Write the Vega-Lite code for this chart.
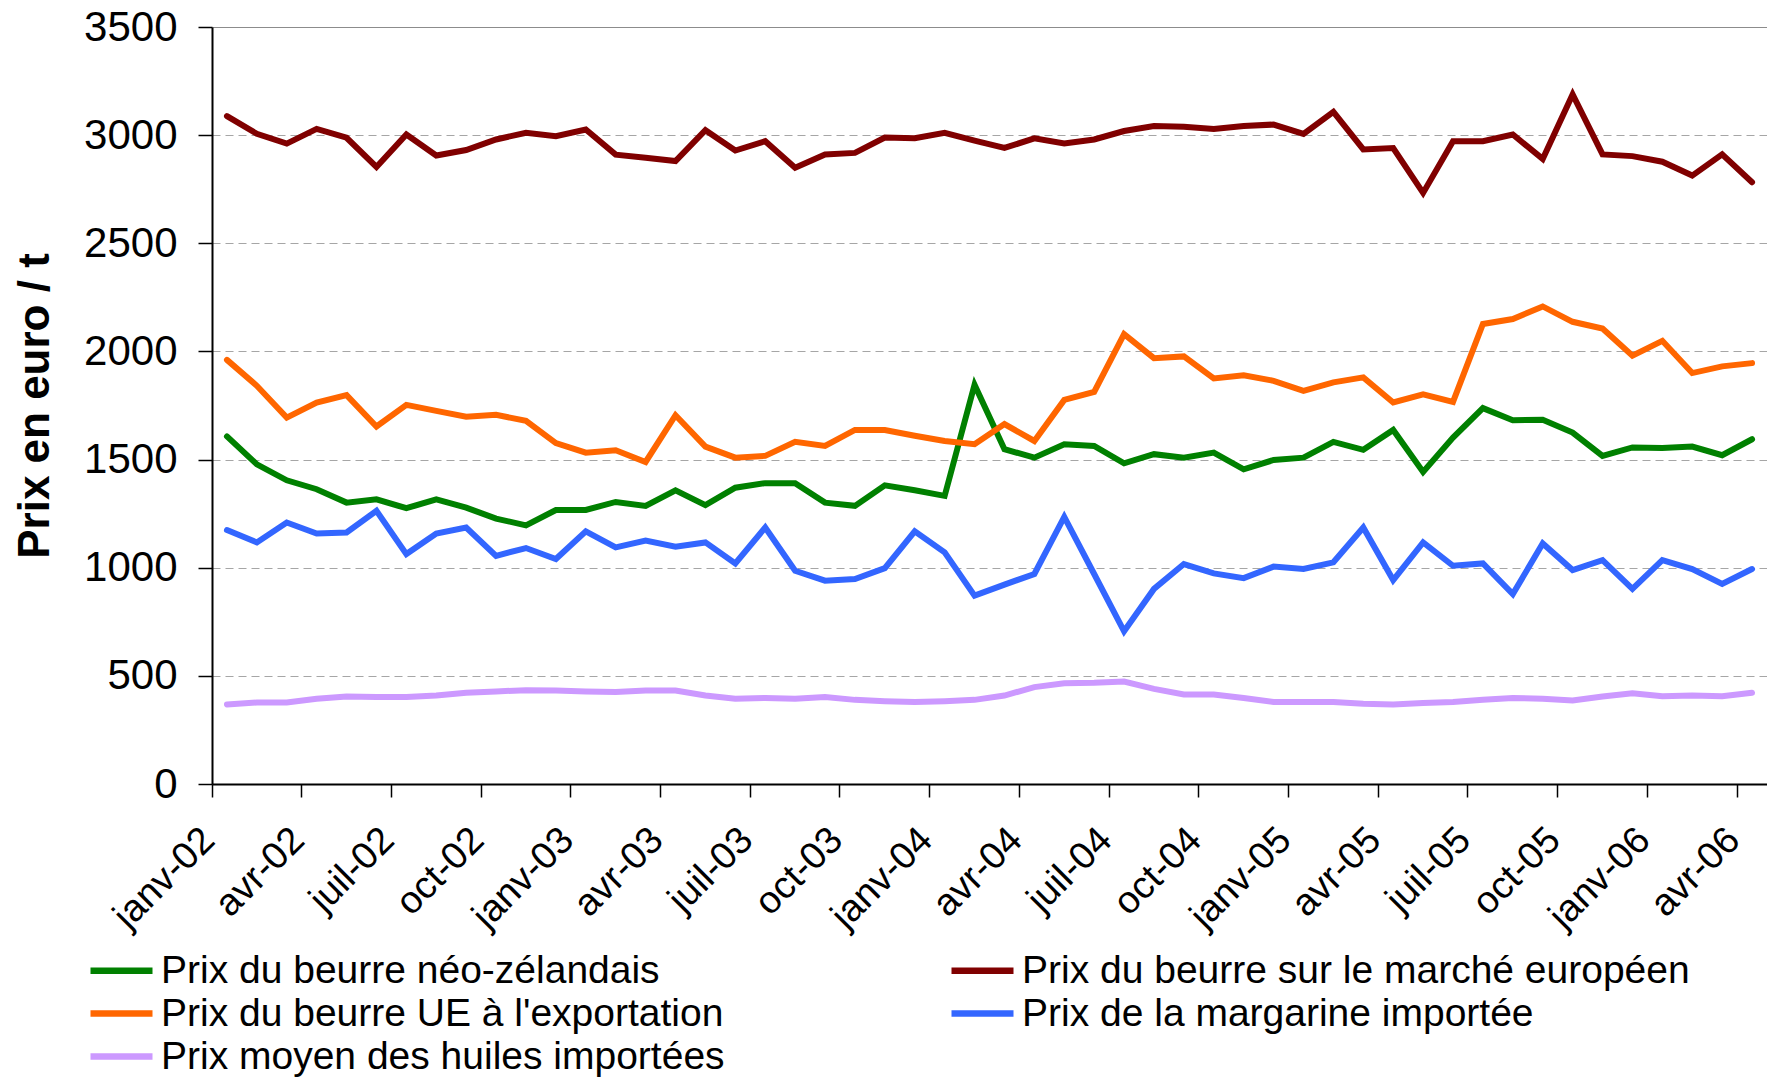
{
"$schema": "https://vega.github.io/schema/vega-lite/v6.json",
"width": 1555,
"height": 757,
"autosize": {"type": "none"},
"padding": {"left": 212, "top": 27, "right": 0, "bottom": 293},
"background": "white",
"config": {"view": {"stroke": null}, "font": "Liberation Sans"},
"data": {"values": [
{"mois":"janv-02","serie":"Prix du beurre néo-zélandais","prix":1607},{"mois":"févr-02","serie":"Prix du beurre néo-zélandais","prix":1478},{"mois":"mars-02","serie":"Prix du beurre néo-zélandais","prix":1404},{"mois":"avr-02","serie":"Prix du beurre néo-zélandais","prix":1363},{"mois":"mai-02","serie":"Prix du beurre néo-zélandais","prix":1301},{"mois":"juin-02","serie":"Prix du beurre néo-zélandais","prix":1316},{"mois":"juil-02","serie":"Prix du beurre néo-zélandais","prix":1275},{"mois":"août-02","serie":"Prix du beurre néo-zélandais","prix":1316},{"mois":"sept-02","serie":"Prix du beurre néo-zélandais","prix":1278},{"mois":"oct-02","serie":"Prix du beurre néo-zélandais","prix":1227},{"mois":"nov-02","serie":"Prix du beurre néo-zélandais","prix":1196},{"mois":"déc-02","serie":"Prix du beurre néo-zélandais","prix":1267},
{"mois":"janv-03","serie":"Prix du beurre néo-zélandais","prix":1267},{"mois":"févr-03","serie":"Prix du beurre néo-zélandais","prix":1304},{"mois":"mars-03","serie":"Prix du beurre néo-zélandais","prix":1286},{"mois":"avr-03","serie":"Prix du beurre néo-zélandais","prix":1358},{"mois":"mai-03","serie":"Prix du beurre néo-zélandais","prix":1289},{"mois":"juin-03","serie":"Prix du beurre néo-zélandais","prix":1370},{"mois":"juil-03","serie":"Prix du beurre néo-zélandais","prix":1391},{"mois":"août-03","serie":"Prix du beurre néo-zélandais","prix":1391},{"mois":"sept-03","serie":"Prix du beurre néo-zélandais","prix":1301},{"mois":"oct-03","serie":"Prix du beurre néo-zélandais","prix":1286},{"mois":"nov-03","serie":"Prix du beurre néo-zélandais","prix":1381},{"mois":"déc-03","serie":"Prix du beurre néo-zélandais","prix":1358},
{"mois":"janv-04","serie":"Prix du beurre néo-zélandais","prix":1332},{"mois":"févr-04","serie":"Prix du beurre néo-zélandais","prix":1846},{"mois":"mars-04","serie":"Prix du beurre néo-zélandais","prix":1548},{"mois":"avr-04","serie":"Prix du beurre néo-zélandais","prix":1509},{"mois":"mai-04","serie":"Prix du beurre néo-zélandais","prix":1571},{"mois":"juin-04","serie":"Prix du beurre néo-zélandais","prix":1563},{"mois":"juil-04","serie":"Prix du beurre néo-zélandais","prix":1483},{"mois":"août-04","serie":"Prix du beurre néo-zélandais","prix":1525},{"mois":"sept-04","serie":"Prix du beurre néo-zélandais","prix":1509},{"mois":"oct-04","serie":"Prix du beurre néo-zélandais","prix":1532},{"mois":"nov-04","serie":"Prix du beurre néo-zélandais","prix":1455},{"mois":"déc-04","serie":"Prix du beurre néo-zélandais","prix":1498},
{"mois":"janv-05","serie":"Prix du beurre néo-zélandais","prix":1509},{"mois":"févr-05","serie":"Prix du beurre néo-zélandais","prix":1582},{"mois":"mars-05","serie":"Prix du beurre néo-zélandais","prix":1545},{"mois":"avr-05","serie":"Prix du beurre néo-zélandais","prix":1637},{"mois":"mai-05","serie":"Prix du beurre néo-zélandais","prix":1443},{"mois":"juin-05","serie":"Prix du beurre néo-zélandais","prix":1602},{"mois":"juil-05","serie":"Prix du beurre néo-zélandais","prix":1738},{"mois":"août-05","serie":"Prix du beurre néo-zélandais","prix":1682},{"mois":"sept-05","serie":"Prix du beurre néo-zélandais","prix":1684},{"mois":"oct-05","serie":"Prix du beurre néo-zélandais","prix":1625},{"mois":"nov-05","serie":"Prix du beurre néo-zélandais","prix":1517},{"mois":"déc-05","serie":"Prix du beurre néo-zélandais","prix":1556},
{"mois":"janv-06","serie":"Prix du beurre néo-zélandais","prix":1553},{"mois":"févr-06","serie":"Prix du beurre néo-zélandais","prix":1560},{"mois":"mars-06","serie":"Prix du beurre néo-zélandais","prix":1520},{"mois":"avr-06","serie":"Prix du beurre néo-zélandais","prix":1594},

{"mois":"janv-02","serie":"Prix du beurre sur le marché européen","prix":3088},{"mois":"févr-02","serie":"Prix du beurre sur le marché européen","prix":3006},{"mois":"mars-02","serie":"Prix du beurre sur le marché européen","prix":2961},{"mois":"avr-02","serie":"Prix du beurre sur le marché européen","prix":3029},{"mois":"mai-02","serie":"Prix du beurre sur le marché européen","prix":2988},{"mois":"juin-02","serie":"Prix du beurre sur le marché européen","prix":2853},{"mois":"juil-02","serie":"Prix du beurre sur le marché européen","prix":3003},{"mois":"août-02","serie":"Prix du beurre sur le marché européen","prix":2906},{"mois":"sept-02","serie":"Prix du beurre sur le marché européen","prix":2931},{"mois":"oct-02","serie":"Prix du beurre sur le marché européen","prix":2980},{"mois":"nov-02","serie":"Prix du beurre sur le marché européen","prix":3011},{"mois":"déc-02","serie":"Prix du beurre sur le marché européen","prix":2995},
{"mois":"janv-03","serie":"Prix du beurre sur le marché européen","prix":3026},{"mois":"févr-03","serie":"Prix du beurre sur le marché européen","prix":2910},{"mois":"mars-03","serie":"Prix du beurre sur le marché européen","prix":2895},{"mois":"avr-03","serie":"Prix du beurre sur le marché européen","prix":2880},{"mois":"mai-03","serie":"Prix du beurre sur le marché européen","prix":3023},{"mois":"juin-03","serie":"Prix du beurre sur le marché européen","prix":2929},{"mois":"juil-03","serie":"Prix du beurre sur le marché européen","prix":2972},{"mois":"août-03","serie":"Prix du beurre sur le marché européen","prix":2849},{"mois":"sept-03","serie":"Prix du beurre sur le marché européen","prix":2911},{"mois":"oct-03","serie":"Prix du beurre sur le marché européen","prix":2918},{"mois":"nov-03","serie":"Prix du beurre sur le marché européen","prix":2989},{"mois":"déc-03","serie":"Prix du beurre sur le marché européen","prix":2986},
{"mois":"janv-04","serie":"Prix du beurre sur le marché européen","prix":3011},{"mois":"févr-04","serie":"Prix du beurre sur le marché européen","prix":2975},{"mois":"mars-04","serie":"Prix du beurre sur le marché européen","prix":2941},{"mois":"avr-04","serie":"Prix du beurre sur le marché européen","prix":2985},{"mois":"mai-04","serie":"Prix du beurre sur le marché européen","prix":2961},{"mois":"juin-04","serie":"Prix du beurre sur le marché européen","prix":2980},{"mois":"juil-04","serie":"Prix du beurre sur le marché européen","prix":3019},{"mois":"août-04","serie":"Prix du beurre sur le marché européen","prix":3042},{"mois":"sept-04","serie":"Prix du beurre sur le marché européen","prix":3039},{"mois":"oct-04","serie":"Prix du beurre sur le marché européen","prix":3029},{"mois":"nov-04","serie":"Prix du beurre sur le marché européen","prix":3042},{"mois":"déc-04","serie":"Prix du beurre sur le marché européen","prix":3049},
{"mois":"janv-05","serie":"Prix du beurre sur le marché européen","prix":3006},{"mois":"févr-05","serie":"Prix du beurre sur le marché européen","prix":3108},{"mois":"mars-05","serie":"Prix du beurre sur le marché européen","prix":2934},{"mois":"avr-05","serie":"Prix du beurre sur le marché européen","prix":2940},{"mois":"mai-05","serie":"Prix du beurre sur le marché européen","prix":2733},{"mois":"juin-05","serie":"Prix du beurre sur le marché européen","prix":2972},{"mois":"juil-05","serie":"Prix du beurre sur le marché européen","prix":2972},{"mois":"août-05","serie":"Prix du beurre sur le marché européen","prix":3003},{"mois":"sept-05","serie":"Prix du beurre sur le marché européen","prix":2890},{"mois":"oct-05","serie":"Prix du beurre sur le marché européen","prix":3188},{"mois":"nov-05","serie":"Prix du beurre sur le marché européen","prix":2911},{"mois":"déc-05","serie":"Prix du beurre sur le marché européen","prix":2903},
{"mois":"janv-06","serie":"Prix du beurre sur le marché européen","prix":2877},{"mois":"févr-06","serie":"Prix du beurre sur le marché européen","prix":2813},{"mois":"mars-06","serie":"Prix du beurre sur le marché européen","prix":2911},{"mois":"avr-06","serie":"Prix du beurre sur le marché européen","prix":2782},

{"mois":"janv-02","serie":"Prix du beurre UE à l'exportation","prix":1961},{"mois":"févr-02","serie":"Prix du beurre UE à l'exportation","prix":1841},{"mois":"mars-02","serie":"Prix du beurre UE à l'exportation","prix":1694},{"mois":"avr-02","serie":"Prix du beurre UE à l'exportation","prix":1764},{"mois":"mai-02","serie":"Prix du beurre UE à l'exportation","prix":1798},{"mois":"juin-02","serie":"Prix du beurre UE à l'exportation","prix":1653},{"mois":"juil-02","serie":"Prix du beurre UE à l'exportation","prix":1753},{"mois":"août-02","serie":"Prix du beurre UE à l'exportation","prix":1725},{"mois":"sept-02","serie":"Prix du beurre UE à l'exportation","prix":1698},{"mois":"oct-02","serie":"Prix du beurre UE à l'exportation","prix":1707},{"mois":"nov-02","serie":"Prix du beurre UE à l'exportation","prix":1679},{"mois":"déc-02","serie":"Prix du beurre UE à l'exportation","prix":1576},
{"mois":"janv-03","serie":"Prix du beurre UE à l'exportation","prix":1532},{"mois":"févr-03","serie":"Prix du beurre UE à l'exportation","prix":1543},{"mois":"mars-03","serie":"Prix du beurre UE à l'exportation","prix":1489},{"mois":"avr-03","serie":"Prix du beurre UE à l'exportation","prix":1705},{"mois":"mai-03","serie":"Prix du beurre UE à l'exportation","prix":1560},{"mois":"juin-03","serie":"Prix du beurre UE à l'exportation","prix":1509},{"mois":"juil-03","serie":"Prix du beurre UE à l'exportation","prix":1517},{"mois":"août-03","serie":"Prix du beurre UE à l'exportation","prix":1582},{"mois":"sept-03","serie":"Prix du beurre UE à l'exportation","prix":1563},{"mois":"oct-03","serie":"Prix du beurre UE à l'exportation","prix":1637},{"mois":"nov-03","serie":"Prix du beurre UE à l'exportation","prix":1637},{"mois":"déc-03","serie":"Prix du beurre UE à l'exportation","prix":1610},
{"mois":"janv-04","serie":"Prix du beurre UE à l'exportation","prix":1586},{"mois":"févr-04","serie":"Prix du beurre UE à l'exportation","prix":1571},{"mois":"mars-04","serie":"Prix du beurre UE à l'exportation","prix":1664},{"mois":"avr-04","serie":"Prix du beurre UE à l'exportation","prix":1586},{"mois":"mai-04","serie":"Prix du beurre UE à l'exportation","prix":1776},{"mois":"juin-04","serie":"Prix du beurre UE à l'exportation","prix":1813},{"mois":"juil-04","serie":"Prix du beurre UE à l'exportation","prix":2080},{"mois":"août-04","serie":"Prix du beurre UE à l'exportation","prix":1969},{"mois":"sept-04","serie":"Prix du beurre UE à l'exportation","prix":1977},{"mois":"oct-04","serie":"Prix du beurre UE à l'exportation","prix":1875},{"mois":"nov-04","serie":"Prix du beurre UE à l'exportation","prix":1890},{"mois":"déc-04","serie":"Prix du beurre UE à l'exportation","prix":1864},
{"mois":"janv-05","serie":"Prix du beurre UE à l'exportation","prix":1818},{"mois":"févr-05","serie":"Prix du beurre UE à l'exportation","prix":1857},{"mois":"mars-05","serie":"Prix du beurre UE à l'exportation","prix":1880},{"mois":"avr-05","serie":"Prix du beurre UE à l'exportation","prix":1764},{"mois":"mai-05","serie":"Prix du beurre UE à l'exportation","prix":1802},{"mois":"juin-05","serie":"Prix du beurre UE à l'exportation","prix":1767},{"mois":"juil-05","serie":"Prix du beurre UE à l'exportation","prix":2127},{"mois":"août-05","serie":"Prix du beurre UE à l'exportation","prix":2150},{"mois":"sept-05","serie":"Prix du beurre UE à l'exportation","prix":2208},{"mois":"oct-05","serie":"Prix du beurre UE à l'exportation","prix":2137},{"mois":"nov-05","serie":"Prix du beurre UE à l'exportation","prix":2106},{"mois":"déc-05","serie":"Prix du beurre UE à l'exportation","prix":1980},
{"mois":"janv-06","serie":"Prix du beurre UE à l'exportation","prix":2049},{"mois":"févr-06","serie":"Prix du beurre UE à l'exportation","prix":1900},{"mois":"mars-06","serie":"Prix du beurre UE à l'exportation","prix":1931},{"mois":"avr-06","serie":"Prix du beurre UE à l'exportation","prix":1946},

{"mois":"janv-02","serie":"Prix de la margarine importée","prix":1174},{"mois":"févr-02","serie":"Prix de la margarine importée","prix":1117},{"mois":"mars-02","serie":"Prix de la margarine importée","prix":1209},{"mois":"avr-02","serie":"Prix de la margarine importée","prix":1158},{"mois":"mai-02","serie":"Prix de la margarine importée","prix":1163},{"mois":"juin-02","serie":"Prix de la margarine importée","prix":1263},{"mois":"juil-02","serie":"Prix de la margarine importée","prix":1063},{"mois":"août-02","serie":"Prix de la margarine importée","prix":1158},{"mois":"sept-02","serie":"Prix de la margarine importée","prix":1186},{"mois":"oct-02","serie":"Prix de la margarine importée","prix":1055},{"mois":"nov-02","serie":"Prix de la margarine importée","prix":1091},{"mois":"déc-02","serie":"Prix de la margarine importée","prix":1040},
{"mois":"janv-03","serie":"Prix de la margarine importée","prix":1168},{"mois":"févr-03","serie":"Prix de la margarine importée","prix":1094},{"mois":"mars-03","serie":"Prix de la margarine importée","prix":1125},{"mois":"avr-03","serie":"Prix de la margarine importée","prix":1097},{"mois":"mai-03","serie":"Prix de la margarine importée","prix":1117},{"mois":"juin-03","serie":"Prix de la margarine importée","prix":1020},{"mois":"juil-03","serie":"Prix de la margarine importée","prix":1186},{"mois":"août-03","serie":"Prix de la margarine importée","prix":986},{"mois":"sept-03","serie":"Prix de la margarine importée","prix":940},{"mois":"oct-03","serie":"Prix de la margarine importée","prix":948},{"mois":"nov-03","serie":"Prix de la margarine importée","prix":998},{"mois":"déc-03","serie":"Prix de la margarine importée","prix":1168},
{"mois":"janv-04","serie":"Prix de la margarine importée","prix":1071},{"mois":"févr-04","serie":"Prix de la margarine importée","prix":871},{"mois":"mars-04","serie":"Prix de la margarine importée","prix":922},{"mois":"avr-04","serie":"Prix de la margarine importée","prix":971},{"mois":"mai-04","serie":"Prix de la margarine importée","prix":1235},{"mois":"juin-04","serie":"Prix de la margarine importée","prix":971},{"mois":"juil-04","serie":"Prix de la margarine importée","prix":706},{"mois":"août-04","serie":"Prix de la margarine importée","prix":902},{"mois":"sept-04","serie":"Prix de la margarine importée","prix":1017},{"mois":"oct-04","serie":"Prix de la margarine importée","prix":974},{"mois":"nov-04","serie":"Prix de la margarine importée","prix":952},{"mois":"déc-04","serie":"Prix de la margarine importée","prix":1005},
{"mois":"janv-05","serie":"Prix de la margarine importée","prix":994},{"mois":"févr-05","serie":"Prix de la margarine importée","prix":1025},{"mois":"mars-05","serie":"Prix de la margarine importée","prix":1186},{"mois":"avr-05","serie":"Prix de la margarine importée","prix":943},{"mois":"mai-05","serie":"Prix de la margarine importée","prix":1117},{"mois":"juin-05","serie":"Prix de la margarine importée","prix":1009},{"mois":"juil-05","serie":"Prix de la margarine importée","prix":1020},{"mois":"août-05","serie":"Prix de la margarine importée","prix":878},{"mois":"sept-05","serie":"Prix de la margarine importée","prix":1112},{"mois":"oct-05","serie":"Prix de la margarine importée","prix":989},{"mois":"nov-05","serie":"Prix de la margarine importée","prix":1035},{"mois":"déc-05","serie":"Prix de la margarine importée","prix":902},
{"mois":"janv-06","serie":"Prix de la margarine importée","prix":1035},{"mois":"févr-06","serie":"Prix de la margarine importée","prix":994},{"mois":"mars-06","serie":"Prix de la margarine importée","prix":925},{"mois":"avr-06","serie":"Prix de la margarine importée","prix":994},

{"mois":"janv-02","serie":"Prix moyen des huiles importées","prix":368},{"mois":"févr-02","serie":"Prix moyen des huiles importées","prix":377},{"mois":"mars-02","serie":"Prix moyen des huiles importées","prix":377},{"mois":"avr-02","serie":"Prix moyen des huiles importées","prix":394},{"mois":"mai-02","serie":"Prix moyen des huiles importées","prix":405},{"mois":"juin-02","serie":"Prix moyen des huiles importées","prix":402},{"mois":"juil-02","serie":"Prix moyen des huiles importées","prix":402},{"mois":"août-02","serie":"Prix moyen des huiles importées","prix":409},{"mois":"sept-02","serie":"Prix moyen des huiles importées","prix":422},{"mois":"oct-02","serie":"Prix moyen des huiles importées","prix":428},{"mois":"nov-02","serie":"Prix moyen des huiles importées","prix":434},{"mois":"déc-02","serie":"Prix moyen des huiles importées","prix":432},
{"mois":"janv-03","serie":"Prix moyen des huiles importées","prix":428},{"mois":"févr-03","serie":"Prix moyen des huiles importées","prix":425},{"mois":"mars-03","serie":"Prix moyen des huiles importées","prix":432},{"mois":"avr-03","serie":"Prix moyen des huiles importées","prix":432},{"mois":"mai-03","serie":"Prix moyen des huiles importées","prix":409},{"mois":"juin-03","serie":"Prix moyen des huiles importées","prix":394},{"mois":"juil-03","serie":"Prix moyen des huiles importées","prix":398},{"mois":"août-03","serie":"Prix moyen des huiles importées","prix":394},{"mois":"sept-03","serie":"Prix moyen des huiles importées","prix":402},{"mois":"oct-03","serie":"Prix moyen des huiles importées","prix":389},{"mois":"nov-03","serie":"Prix moyen des huiles importées","prix":383},{"mois":"déc-03","serie":"Prix moyen des huiles importées","prix":379},
{"mois":"janv-04","serie":"Prix moyen des huiles importées","prix":383},{"mois":"févr-04","serie":"Prix moyen des huiles importées","prix":389},{"mois":"mars-04","serie":"Prix moyen des huiles importées","prix":409},{"mois":"avr-04","serie":"Prix moyen des huiles importées","prix":448},{"mois":"mai-04","serie":"Prix moyen des huiles importées","prix":466},{"mois":"juin-04","serie":"Prix moyen des huiles importées","prix":468},{"mois":"juil-04","serie":"Prix moyen des huiles importées","prix":474},{"mois":"août-04","serie":"Prix moyen des huiles importées","prix":440},{"mois":"sept-04","serie":"Prix moyen des huiles importées","prix":414},{"mois":"oct-04","serie":"Prix moyen des huiles importées","prix":414},{"mois":"nov-04","serie":"Prix moyen des huiles importées","prix":398},{"mois":"déc-04","serie":"Prix moyen des huiles importées","prix":379},
{"mois":"janv-05","serie":"Prix moyen des huiles importées","prix":379},{"mois":"févr-05","serie":"Prix moyen des huiles importées","prix":379},{"mois":"mars-05","serie":"Prix moyen des huiles importées","prix":371},{"mois":"avr-05","serie":"Prix moyen des huiles importées","prix":368},{"mois":"mai-05","serie":"Prix moyen des huiles importées","prix":375},{"mois":"juin-05","serie":"Prix moyen des huiles importées","prix":379},{"mois":"juil-05","serie":"Prix moyen des huiles importées","prix":389},{"mois":"août-05","serie":"Prix moyen des huiles importées","prix":398},{"mois":"sept-05","serie":"Prix moyen des huiles importées","prix":394},{"mois":"oct-05","serie":"Prix moyen des huiles importées","prix":386},{"mois":"nov-05","serie":"Prix moyen des huiles importées","prix":405},{"mois":"déc-05","serie":"Prix moyen des huiles importées","prix":420},
{"mois":"janv-06","serie":"Prix moyen des huiles importées","prix":406},{"mois":"févr-06","serie":"Prix moyen des huiles importées","prix":409},{"mois":"mars-06","serie":"Prix moyen des huiles importées","prix":406},{"mois":"avr-06","serie":"Prix moyen des huiles importées","prix":422}
]},
"mark": {"type": "line", "strokeWidth": 6, "strokeCap": "round", "strokeJoin": "miter"},
"encoding": {
  "x": {
    "field": "mois", "type": "ordinal", "sort": null,
    "scale": {"type": "band", "paddingInner": 0, "paddingOuter": 0},
    "axis": {
      "title": null,
      "values": ["janv-02","avr-02","juil-02","oct-02","janv-03","avr-03","juil-03","oct-03","janv-04","avr-04","juil-04","oct-04","janv-05","avr-05","juil-05","oct-05","janv-06","avr-06"],
      "bandPosition": 0,
      "domainColor": "#000000", "domainWidth": 2,
      "tickColor": "#000000", "tickWidth": 1.5, "tickSize": 13,
      "labelAngle": -45, "labelAlign": "right", "labelBaseline": "middle",
      "labelFont": "Liberation Sans", "labelFontSize": 38, "labelColor": "#000000",
      "labelPadding": 37, "labelOffset": -18, "labelOverlap": false, "labelBound": false, "labelFlush": false
    }
  },
  "y": {
    "field": "prix", "type": "quantitative",
    "scale": {"domain": [0, 3500], "nice": false, "zero": true},
    "axis": {
      "title": "Prix en euro / t",
      "titleFont": "Liberation Sans", "titleFontSize": 44, "titleFontWeight": "bold", "titleColor": "#000000",
      "titleX": -155,
      "values": [0, 500, 1000, 1500, 2000, 2500, 3000, 3500],
      "format": "d",
      "domainColor": "#000000", "domainWidth": 2,
      "tickColor": "#000000", "tickWidth": 1.5, "tickSize": 14,
      "labelFont": "Liberation Sans", "labelFontSize": 42, "labelColor": "#000000", "labelPadding": 21,
      "grid": true,
      "gridColor": {"condition": {"test": "datum.value === 3500", "value": "#8c8c8c"}, "value": "#a6a6a6"},
      "gridDash": {"condition": {"test": "datum.value === 3500 || datum.value === 0", "value": []}, "value": [8, 5]},
      "gridWidth": 1.2
    }
  },
  "color": {
    "field": "serie", "type": "nominal",
    "scale": {
      "domain": ["Prix du beurre néo-zélandais", "Prix du beurre sur le marché européen", "Prix du beurre UE à l'exportation", "Prix de la margarine importée", "Prix moyen des huiles importées"],
      "range": ["#008000", "#800000", "#FF6600", "#3366FF", "#CC99FF"]
    },
    "legend": {
      "title": null, "orient": "none", "legendX": -110, "legendY": 924,
      "direction": "horizontal",
      "columns": 2, "columnPadding": 213, "rowPadding": 3,
      "symbolType": "M-2,0H2", "symbolSize": 961, "symbolStrokeWidth": 6.5,
      "labelFont": "Liberation Sans", "labelFontSize": 39, "labelColor": "#000000", "labelOffset": 20, "labelLimit": 0
    }
  }
}
}
